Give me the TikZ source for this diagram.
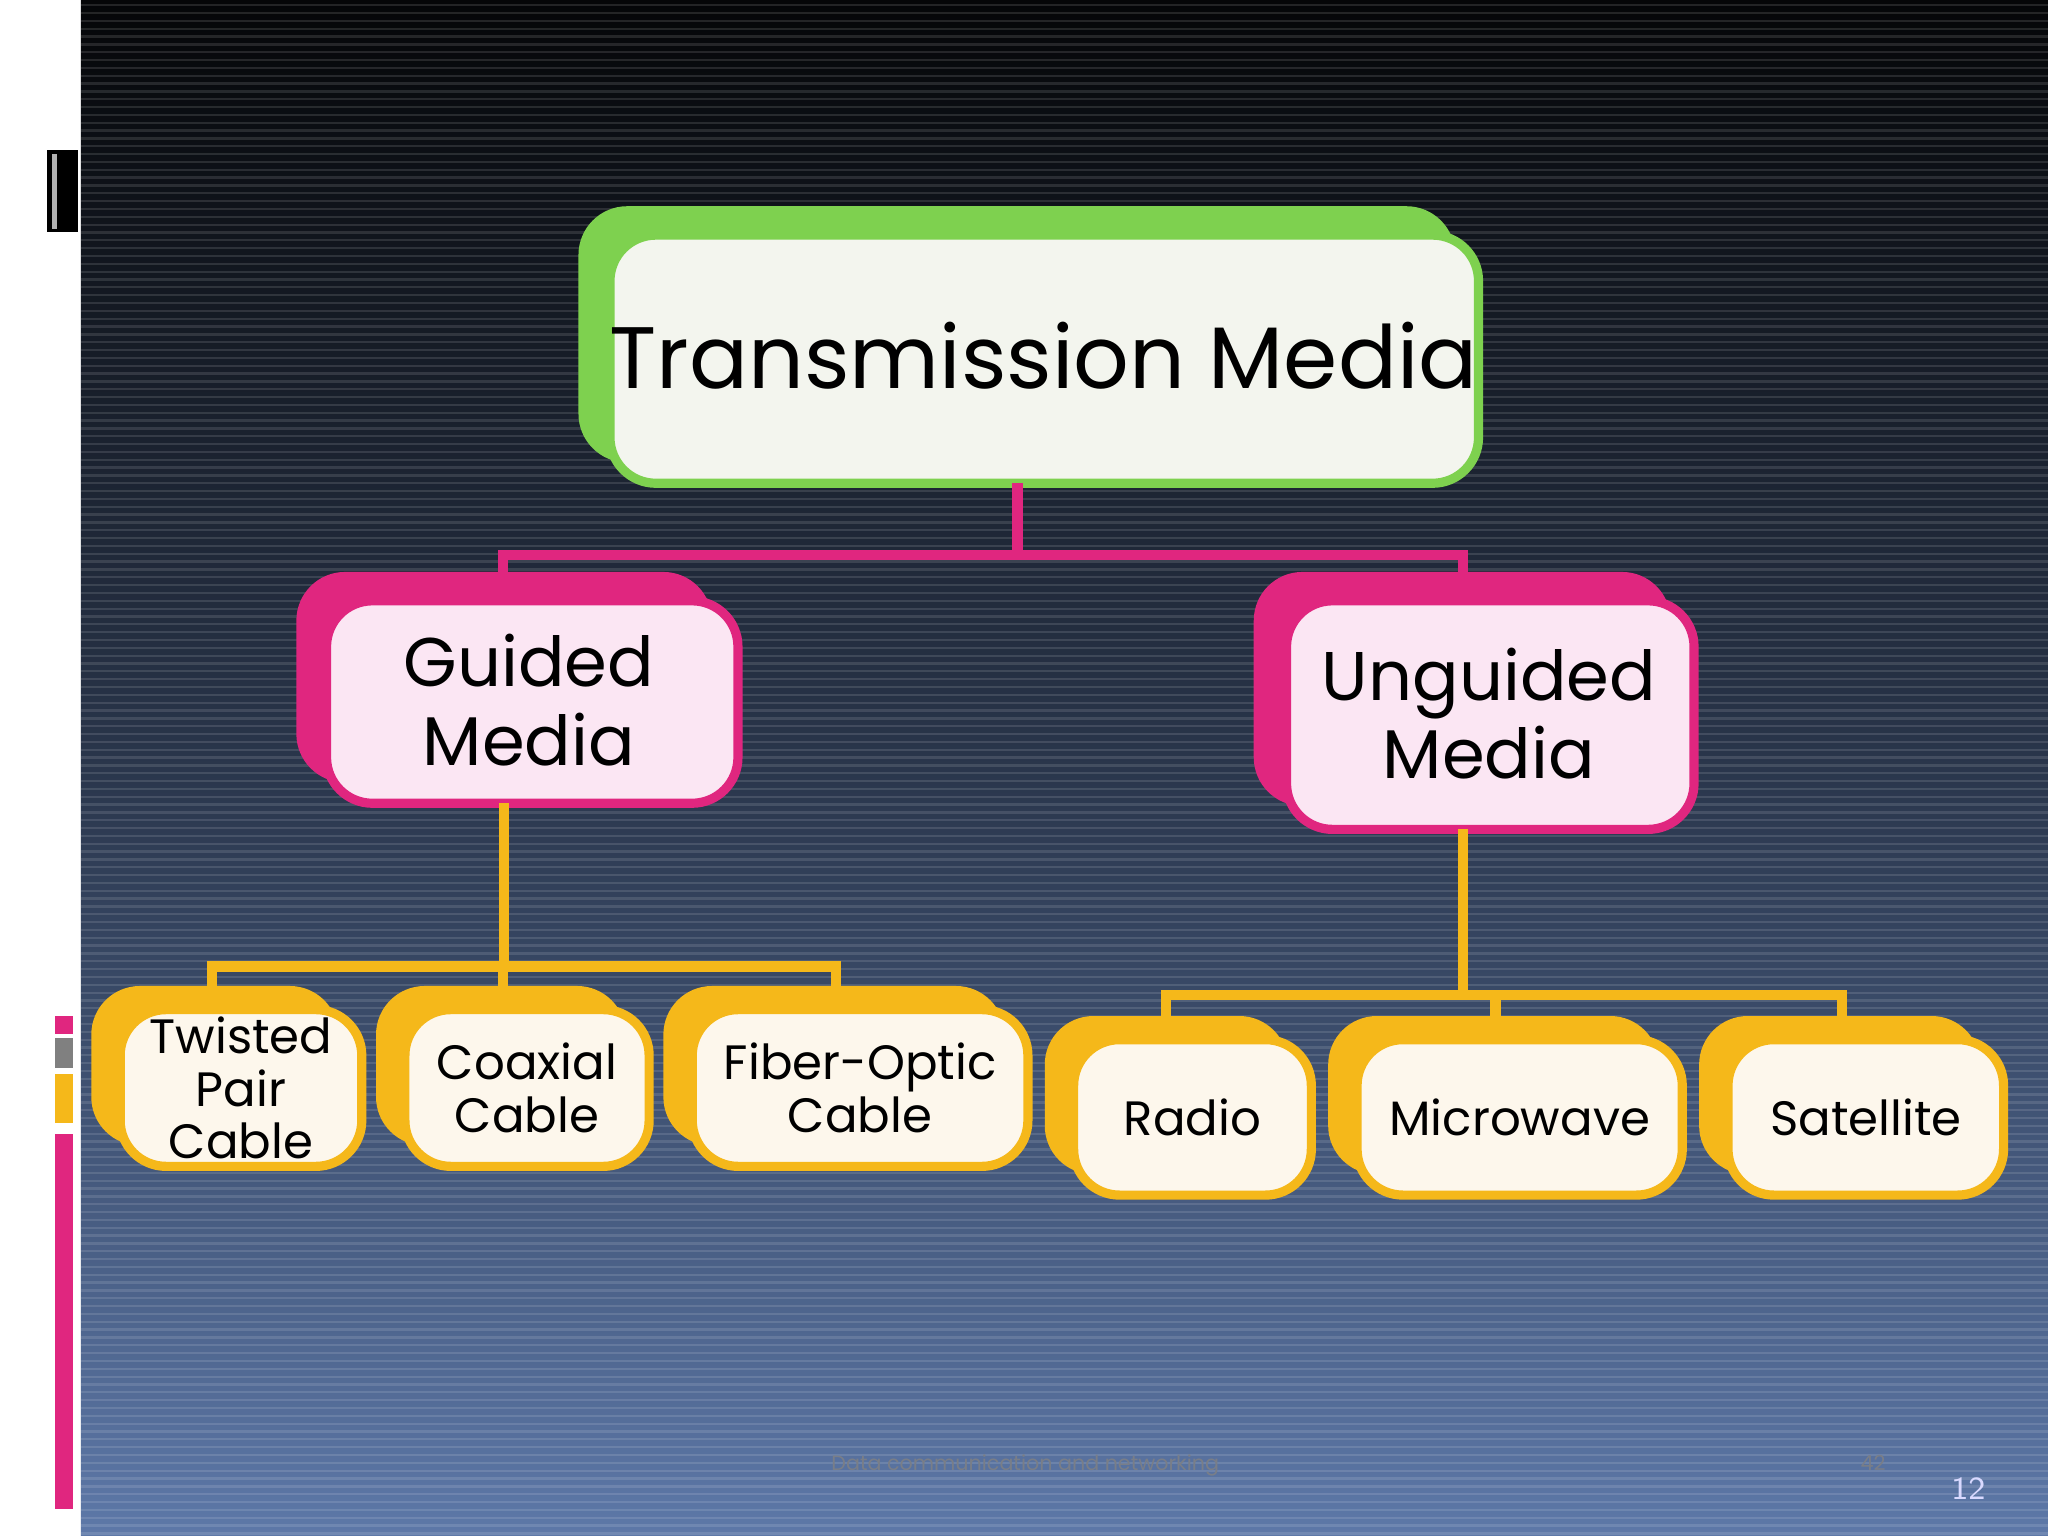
\documentclass[tikz,border=0pt]{standalone}
\usepackage{fontspec}
\setmainfont{Poppins}
\definecolor{gr}{HTML}{7ED14F}
\definecolor{grf}{HTML}{F3F5EE}
\definecolor{pk}{HTML}{E0267F}
\definecolor{pkf}{HTML}{FBE6F3}
\definecolor{yl}{HTML}{F5B81A}
\definecolor{ylf}{HTML}{FDF7EC}
\definecolor{bgtop}{HTML}{050608}
\definecolor{bgbot}{HTML}{5D78A8}
\begin{document}
\begin{tikzpicture}[x=0.01cm,y=-0.01cm,
  backbox/.style={rounded corners=10, line width=1.2pt},
  frontbox/.style={rounded corners=10, line width=2pt, align=center},
  conp/.style={pk, line width=2.2pt},
  cony/.style={yl, line width=2.2pt}]
\useasboundingbox (0,0) rectangle (1568,1176);
\fill[white] (0,0) rectangle (1568,1176);
\shade[top color=bgtop, bottom color=bgbot, middle color=black!55!bgbot] (62,0) rectangle (1568,1176);
\foreach \y in {4,10,...,1176} \draw[white, opacity=0.12, line width=0.5pt] (62,\y) -- (1568,\y);
% left decorations
\fill[black] (36,115) rectangle (60,178);
\fill[white!70!black] (40,118) rectangle (44,175);
\fill[pk] (42,778) rectangle (56,792);
\fill[gray] (42,795) rectangle (56,818);
\fill[yl] (42,822) rectangle (56,860);
\fill[pk] (42,868) rectangle (56,1155);
% top
\draw[backbox, draw=gr, fill=gr] (445,160) rectangle (1112,352);
\draw[frontbox, draw=gr, fill=grf] (467,180) rectangle (1132,370);
\node[font=\fontsize{19}{22}\selectfont] (tm) at (799,272) {Transmission Media};
\coordinate (tmb) at (779,370);
% guided / unguided
\draw[backbox, draw=pk, fill=pk] (229,440) rectangle (543,597);
\draw[frontbox, draw=pk, fill=pkf] (250,460) rectangle (565,615);
\node[font=\fontsize{15}{17}\selectfont, align=center] (gm) at (405,536) {Guided\\Media};
\draw[backbox, draw=pk, fill=pk] (962,440) rectangle (1277,615);
\draw[frontbox, draw=pk, fill=pkf] (985,460) rectangle (1297,635);
\node[font=\fontsize{15}{17}\selectfont, align=center] (um) at (1140,546) {Unguided\\Media};
\coordinate (gt) at (385,440); \coordinate (ut) at (1120,440);
\coordinate (gb) at (386,615); \coordinate (ub) at (1120,635);
\draw[conp] (tmb) -- (779,425) -| (gt);
\draw[conp] (779,425) -| (ut);
% leaves
\foreach \n/\ax/\ay/\bx/\by/\txt in {
  tp/72/757/277/893/{Twisted\\Pair\\Cable},
  cc/290/757/497/893/{Coaxial\\Cable},
  fo/510/757/787/893/{Fiber-Optic\\Cable},
  ra/802/780/1004/915/{Radio},
  mw/1019/780/1288/915/{Microwave},
  sa/1303/780/1534/915/{Satellite}}{
  \draw[backbox, draw=yl, fill=yl] (\ax,\ay) rectangle (\bx-20,\by-18);
  \draw[frontbox, draw=yl, fill=ylf] (\ax+20,\ay+16) rectangle (\bx,\by);
  \node[font=\fontsize{10.5}{11.5}\selectfont, align=center] (\n) at ({(\ax+\bx)/2+10},{(\ay+\by)/2+8}) {\txt};
}
\draw[cony] (gb) -- (386,740);
\draw[cony] (162,757) |- (640,740) -- (640,757);
\draw[cony] (385,740) -- (385,757);
\draw[cony] (ub) -- (1120,762);
\draw[cony] (893,780) |- (1410,762) -- (1410,780);
\draw[cony] (1145,762) -- (1145,780);
% footer
\node[font=\fontsize{4.5}{5}\selectfont, text=gray!80!bgbot] (ft) at (785,1122) {Data communication and networking};
\node[font=\fontsize{4.5}{5}\selectfont, text=gray!80!bgbot] (pg) at (1434,1120) {42};
\node[font=\sffamily\fontsize{7}{8}\selectfont, text=white!85!blue] (pn) at (1507,1140) {12};
\end{tikzpicture}
\end{document}
